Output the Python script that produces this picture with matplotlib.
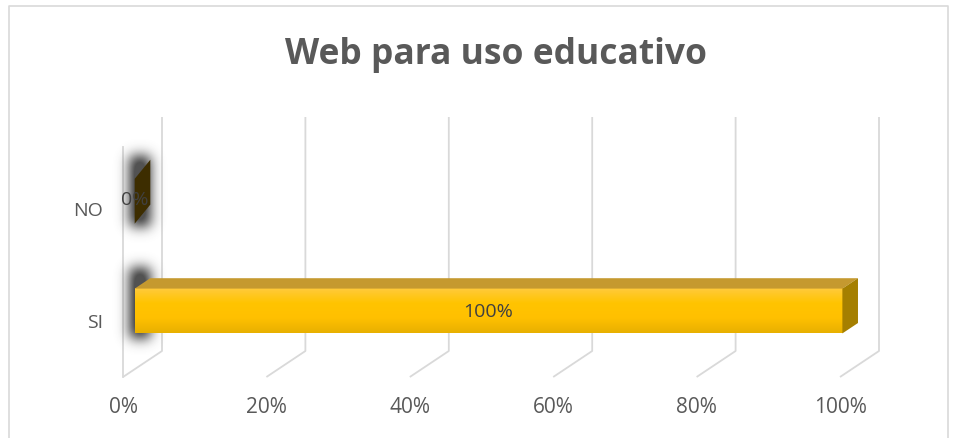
import numpy as np
import matplotlib
matplotlib.use("Agg")
import matplotlib.pyplot as plt
from matplotlib.patches import Polygon
from matplotlib.colors import LinearSegmentedColormap

plt.rcParams['font.family'] = ['Open Sans', 'DejaVu Sans']

# data
categories = ['SI', 'NO']
values = [100, 0]
value_labels = ['100%', '0%']
ticks = [0, 20, 40, 60, 80, 100]
tick_labels = ['0%', '20%', '40%', '60%', '80%', '100%']
title = 'Web para uso educativo'

W, H = 957, 439
fig = plt.figure(figsize=(W / 100, H / 100), dpi=100)
ax = fig.add_axes([0, 0, 1, 1])
ax.axis('off')

# x: percent on the front plane, y: category units
px_x = 7.17      # pixels per percent
px_y = 112.0     # pixels per category
x0_px, y0_px = 123, 312
ax.set_xlim(-x0_px / px_x, (W - x0_px) / px_x)
ax.set_ylim(-(H - y0_px) / px_y, y0_px / px_y)

dx, dy = 39 / px_x, 26 / px_y          # depth of the box
floor = -(378 - y0_px) / px_y
wall_top = (y0_px - 118) / px_y
grid_c = '#d9d9d9'

# gridlines: floor diagonal + back wall vertical
for t in ticks:
    ax.plot([t, t + dx, t + dx], [floor, floor + dy, wall_top],
            color=grid_c, lw=1.3, solid_capstyle='butt', zorder=1)
# left wall front edge
ax.plot([0, 0], [floor, (y0_px - 148) / px_y], color=grid_c, lw=1.3,
        zorder=1)


def shadow(yc):
    # soft shadow behind the bar end: blurred strip, built in pixel cells
    nx, ny = 90, 160
    img = np.zeros((ny, nx))
    cx, cy = 45, 80
    img[cy - 34:cy + 34, cx - 9:cx + 9] = 1
    sig = 6
    k = np.exp(-0.5 * (np.arange(-24, 25) / sig) ** 2)
    k /= k.sum()
    img = np.apply_along_axis(lambda r: np.convolve(r, k, mode='same'), 1, img)
    img = np.apply_along_axis(lambda c: np.convolve(c, k, mode='same'), 0, img)
    rgba = np.zeros((ny, nx, 4))
    rgba[..., :3] = 0.2
    rgba[..., 3] = np.clip(img * 1.4, 0, 1) ** 0.8 * 0.85
    xc = (140 - x0_px) / px_x
    yc2 = yc + 8 / px_y
    ax.imshow(rgba, extent=[xc - nx / 2 / px_x, xc + nx / 2 / px_x,
                            yc2 - ny / 2 / px_y, yc2 + ny / 2 / px_y],
              aspect='auto', origin='lower', zorder=2,
              interpolation='bilinear')


half = 0.2
f0, f1 = 0.3, 0.7
cmap = LinearSegmentedColormap.from_list(
    'g', ['#e8b000', '#ffc000', '#ffc400', '#ffca3c'])
for i, (cat, v, lab) in enumerate(zip(categories, values, value_labels)):
    yc = i
    shadow(yc)
    xl = f0 * dx
    xr = xl + v - 1.3 * (v / 100)
    ddx, ddy = (f1 - f0) * dx, (f1 - f0) * dy
    yb, yt = yc - half, yc + half
    if v > 0:
        # front face with vertical gradient
        grad = np.linspace(0, 1, 100).reshape(-1, 1)
        ax.imshow(grad, extent=[xl, xr, yb, yt], cmap=cmap, aspect='auto',
                  origin='lower', zorder=3)
        ax.add_patch(Polygon([[xl, yt], [xr, yt], [xr + ddx, yt + ddy],
                              [xl + ddx, yt + ddy]], closed=True,
                             facecolor='#c5992f', edgecolor='none', zorder=3))
        ax.add_patch(Polygon([[xr, yb], [xr, yt], [xr + ddx, yt + ddy],
                              [xr + ddx, yb + ddy]], closed=True,
                             facecolor='#a57f00', edgecolor='none', zorder=3))
        ax.text((xl + xr) / 2, yc, lab, ha='center', va='center',
                fontsize=14, color='#404040', zorder=5)
    else:
        ax.add_patch(Polygon([[xl, yb - 0.02], [xl, yt - 0.02],
                              [xl + ddx, yt + 0.15], [xl + ddx, yb + 0.15]],
                             closed=True, facecolor='#3d2d00',
                             edgecolor='none', zorder=3))
        ax.text(xl, yc, lab, ha='center', va='center',
                fontsize=14, color='#404040', zorder=5)
    ax.text(-20 / px_x, yc - 0.1, cat, ha='right', va='center',
            fontsize=14, color='#595959')

for t, tl in zip(ticks, tick_labels):
    ax.text(t, -(408 - y0_px) / px_y, tl, ha='center', va='center',
            fontsize=15, color='#595959')

fig.text(496 / W, 1 - 55 / H, title, ha='center', va='center',
         fontsize=25.5, fontweight='bold', color='#595959')

# chart area border (top, left, right)
fig.add_artist(plt.Line2D([9 / W, 9 / W, 948 / W, 948 / W],
                          [0, 1 - 7 / H, 1 - 7 / H, 0],
                          color='#d9d9d9', lw=1.2))

fig.savefig('out.png', dpi=100)
